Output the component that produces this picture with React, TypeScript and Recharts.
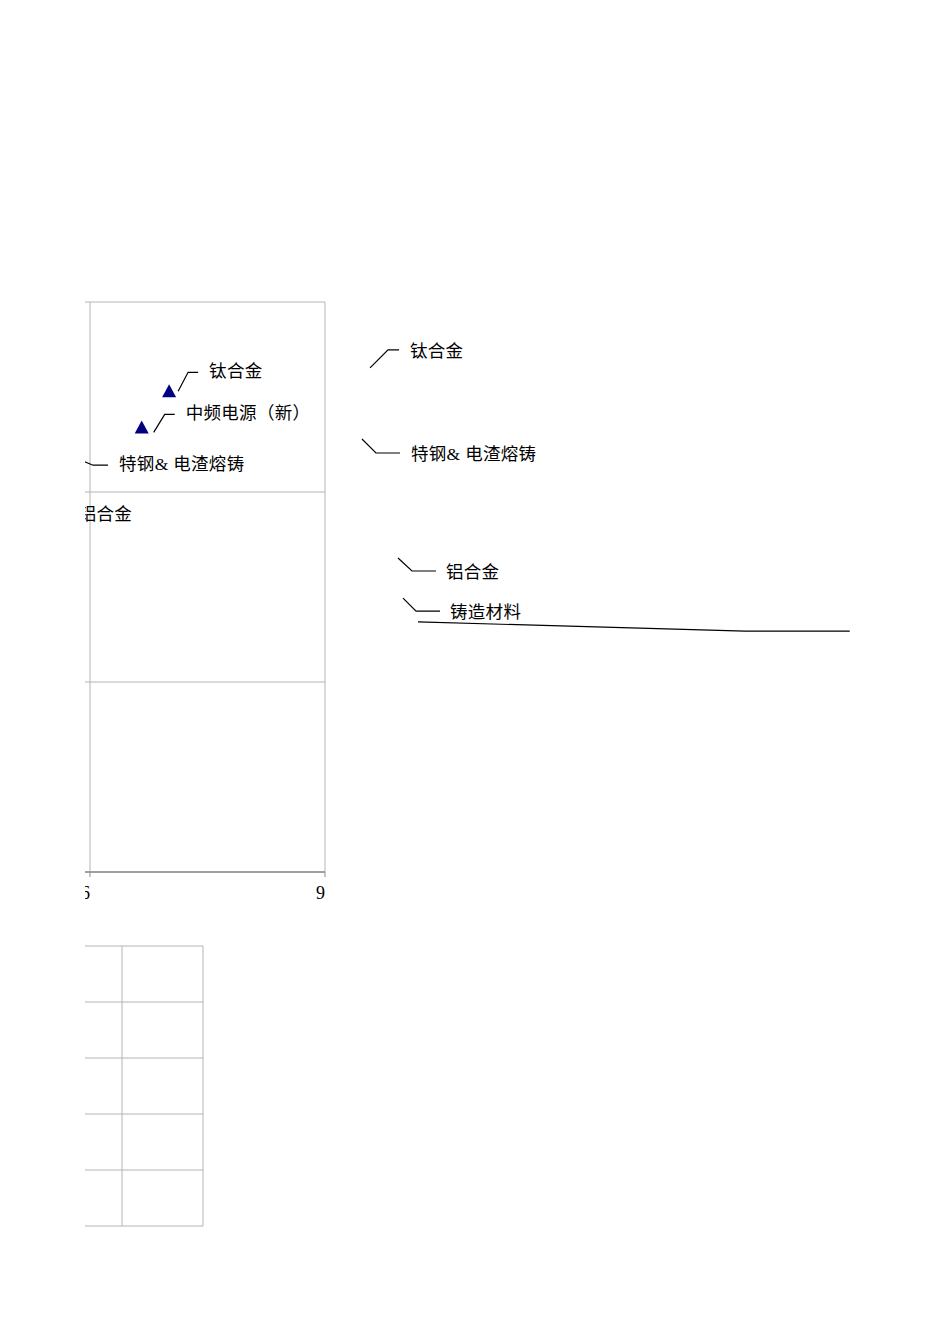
import React from 'react';
import { ScatterChart, Scatter, XAxis, YAxis, CartesianGrid } from 'recharts';

// ---- data ----
const leftLabels = ['钛合金', '中频电源（新）', '特钢& 电渣熔铸', '铝合金'];
const leftX = [7.01, 6.66, 5.49, 5.23];
const leftY = [25.3, 23.4, 22.2, 19.6];

const rightLabels = ['钛合金', '特钢& 电渣熔铸', '铝合金', '铸造材料'];
const rightX = [5.56, 4.07, 10.74, 11.67];
const rightY = [85.9, 65.0, 30.0, 18.2];

const baselineX = [14.44, 75.0, 94.4];
const baselineY = [11.2, 8.5, 8.5];

const xTicks = [3, 6, 9];
const yTicks = [0, 10, 20, 30];
const gridXTicks = [0, 1, 2];
const gridYTicks = [0, 1, 2, 3, 4, 5];

// ---- styles (leader-line geometry relative to each point) ----
type Leader = { start: [number, number]; elbow: [number, number]; end: number; text: number; dy: number };
const leftLeaders: Record<string, Leader> = {
  '钛合金': { start: [9, 0], elbow: [19, -19], end: 29, text: 40, dy: -1 },
  '中频电源（新）': { start: [12, 5], elbow: [23, -13], end: 33, text: 44, dy: -1 },
  '特钢& 电渣熔铸': { start: [9, 1], elbow: [43, 15], end: 58, text: 69, dy: -1 },
  '铝合金': { start: [9, 1], elbow: [25, 13], end: 38, text: 49, dy: 1 },
};
const rightLeaders: Record<string, Leader> = {
  '钛合金': { start: [0, 0], elbow: [18, -18], end: 29, text: 40, dy: 1 },
  '特钢& 电渣熔铸': { start: [0, 0], elbow: [14, 14], end: 38, text: 49, dy: 1 },
  '铝合金': { start: [0, 0], elbow: [14, 13], end: 38, text: 48, dy: 1 },
  '铸造材料': { start: [0, 0], elbow: [13, 13], end: 37, text: 47, dy: 1 },
};

const FONT = "'Liberation Serif', 'Noto Sans CJK SC', serif";
const GRID = '#b4b4b4';
const AXIS = '#8c8c8c';

const leftPoints = leftLabels.map((label, i) => ({ label, x: leftX[i], y: leftY[i] }));
const rightPoints = rightLabels.map((label, i) => ({ label, x: rightX[i], y: rightY[i] }));
const baseline = baselineX.map((x, i) => ({ x, y: baselineY[i] }));
const emptyGrid = [{ x: -1, y: -1 }];

const makeShape = (leaders: Record<string, Leader>, marker: boolean) => (props: any) => {
  const { cx, cy, payload } = props;
  const L = leaders[payload.label];
  if (!L) return <g />;
  const sx = cx + L.start[0];
  const sy = cy + L.start[1];
  const ex = cx + L.elbow[0];
  const ey = cy + L.elbow[1];
  return (
    <g>
      {marker && (
        <polygon
          points={`${cx},${cy - 7} ${cx - 7},${cy + 6} ${cx + 7},${cy + 6}`}
          fill="#000080"
        />
      )}
      <polyline
        points={`${sx},${sy} ${ex},${ey} ${cx + L.end},${ey}`}
        fill="none"
        stroke="#000"
        strokeWidth={1.2}
      />
      <text
        x={cx + L.text}
        y={ey + L.dy}
        dominantBaseline="central"
        fontSize={17.5}
        letterSpacing={0.3}
        fontFamily={FONT}
        fill="#000"
      >
        {payload.label}
      </text>
    </g>
  );
};

const XTick = (props: any) => {
  const { x, y, payload } = props;
  return (
    <text x={x} y={y} dy={20} textAnchor="end" fontSize={18} fontFamily={FONT} fill="#000">
      {payload.value}
    </text>
  );
};

const noShape = () => <g />;

export default function App() {
  return (
    <div style={{ position: 'absolute', left: 0, top: 0, width: 950, height: 1344, background: '#fff', overflow: 'hidden' }}>
      {/* main scatter, clipped at left */}
      <div style={{ position: 'absolute', left: 85, top: 290, width: 265, height: 630, overflow: 'hidden' }}>
        <div style={{ position: 'absolute', left: -230, top: 0 }}>
          <ScatterChart width={490} height={630} margin={{ top: 12, right: 20, left: 0, bottom: 18 }}>
            <CartesianGrid stroke={GRID} strokeWidth={1} />
            <XAxis
              type="number"
              dataKey="x"
              domain={[3, 9]}
              ticks={xTicks}
              interval={0}
              height={30}
              axisLine={{ stroke: AXIS, strokeWidth: 1.3 }}
              tickLine={{ stroke: AXIS }}
              tickSize={5}
              tick={<XTick />}
            />
            <YAxis type="number" dataKey="y" domain={[0, 30]} ticks={yTicks} hide />
            <Scatter data={leftPoints} isAnimationActive={false} shape={makeShape(leftLeaders, true)} />
          </ScatterChart>
        </div>
      </div>

      {/* right-hand labels */}
      <div style={{ position: 'absolute', left: 340, top: 320 }}>
        <ScatterChart width={540} height={340} margin={{ top: 0, right: 0, left: 0, bottom: 0 }}>
          <XAxis type="number" dataKey="x" domain={[0, 100]} hide />
          <YAxis type="number" dataKey="y" domain={[0, 100]} hide />
          <Scatter
            data={baseline}
            isAnimationActive={false}
            line={{ stroke: '#000', strokeWidth: 1.2 }}
            shape={noShape}
          />
          <Scatter data={rightPoints} isAnimationActive={false} shape={makeShape(rightLeaders, false)} />
        </ScatterChart>
      </div>

      {/* bottom grid fragment */}
      <div style={{ position: 'absolute', left: 85, top: 930, width: 130, height: 310, overflow: 'hidden' }}>
        <div style={{ position: 'absolute', left: -44, top: 0 }}>
          <ScatterChart width={167} height={310} margin={{ top: 16, right: 5, left: 0, bottom: 14 }}>
            <CartesianGrid stroke={GRID} strokeWidth={1} />
            <XAxis type="number" dataKey="x" domain={[0, 2]} ticks={gridXTicks} hide allowDataOverflow />
            <YAxis type="number" dataKey="y" domain={[0, 5]} ticks={gridYTicks} hide allowDataOverflow />
            <Scatter data={emptyGrid} isAnimationActive={false} shape={noShape} />
          </ScatterChart>
        </div>
      </div>
    </div>
  );
}
